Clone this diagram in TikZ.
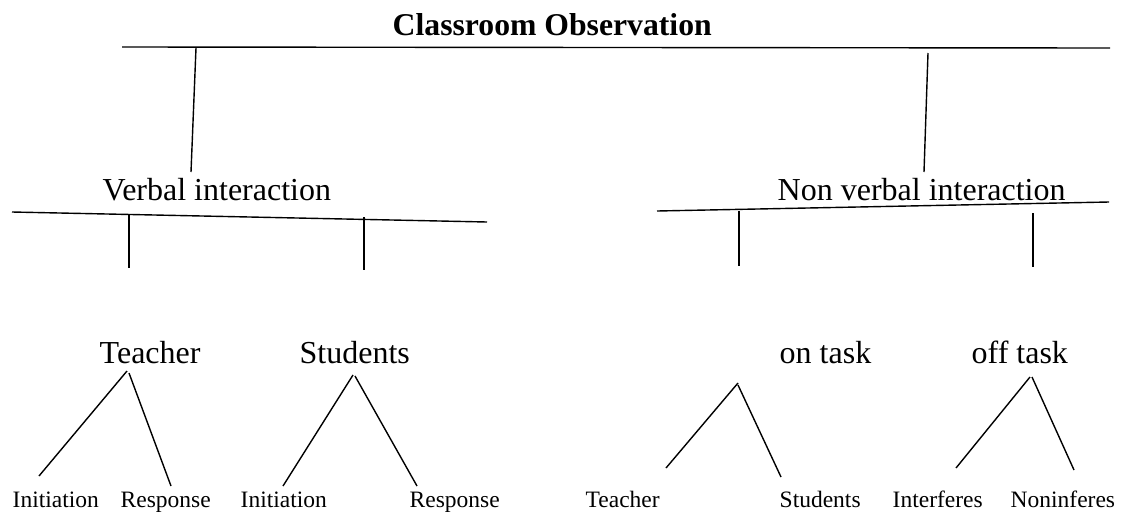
\documentclass[tikz,border=0pt]{standalone}
\usepackage{fontspec}
\setmainfont{Liberation Serif}
\begin{document}
\begin{tikzpicture}[x=1pt,y=-1pt,line width=1.4pt,
  lbl/.style={anchor=base west,inner sep=0pt,font=\fontsize{32}{32}\selectfont},
  leaf/.style={anchor=base west,inner sep=0pt,font=\fontsize{23.5}{23.5}\selectfont},
  ttl/.style={anchor=base west,inner sep=0pt,font=\fontsize{31.7}{31.7}\selectfont\bfseries},
  conn/.style={draw,line width=1.4pt}]
\useasboundingbox (0,0) rectangle (1124,512);
% texts
\node[ttl] (title) at (392,35) {Classroom Observation};
\node[lbl] (verbal) at (102,200) {Verbal interaction};
\node[lbl] (nonverbal) at (777,200) {Non verbal interaction};
\node[lbl] (teacher) at (99,363) {Teacher};
\node[lbl] (students) at (299,363) {Students};
\node[lbl] (ontask) at (779,363) {on task};
\node[lbl] (offtask) at (971,363) {off task};
\node[leaf] (tinit) at (12,507) {Initiation};
\node[leaf] (tresp) at (120,507) {Response};
\node[leaf] (sinit) at (240,507) {Initiation};
\node[leaf] (sresp) at (409,507) {Response};
\node[leaf] (oteacher) at (585,507) {Teacher};
\node[leaf] (ostudents) at (779,507) {Students};
\node[leaf] (interf) at (892,507) {Interferes};
\node[leaf] (nonint) at (1010,507) {Noninferes};
% coordinates
\coordinate (topL) at (122,47);
\coordinate (topR) at (1110,48);
\coordinate (vlA) at (196,48);
\coordinate (vlB) at (191,172);
\coordinate (vrA) at (928,53);
\coordinate (vrB) at (924,172);
\coordinate (vbL) at (12,212);
\coordinate (vbR) at (487,222);
\coordinate (v1A) at (129,215);
\coordinate (v1B) at (129,268);
\coordinate (v2A) at (364,217);
\coordinate (v2B) at (364,270);
\coordinate (nbL) at (657,211);
\coordinate (nbR) at (1109,202);
\coordinate (v3A) at (739,211);
\coordinate (v3B) at (739,266);
\coordinate (v4A) at (1033,213);
\coordinate (v4B) at (1033,267);
\coordinate (tA1) at (127,371);
\coordinate (tE1) at (39,476);
\coordinate (tA2) at (129,373);
\coordinate (tE2) at (171,486);
\coordinate (sA1) at (353,375);
\coordinate (sE1) at (283,486);
\coordinate (sA2) at (355,376);
\coordinate (sE2) at (417,486);
\coordinate (oA1) at (738,383);
\coordinate (oE1) at (666,468);
\coordinate (oA2) at (738,385);
\coordinate (oE2) at (781,477);
\coordinate (fA1) at (1030,377);
\coordinate (fE1) at (956,468);
\coordinate (fA2) at (1032,377);
\coordinate (fE2) at (1074,470);
% lines
\draw[conn] (topL) -- (topR);
\draw[conn] (vlA) -- (vlB);
\draw[conn] (vrA) -- (vrB);
\draw[conn] (vbL) -- (vbR);
\draw[conn] (v1A) -- (v1B);
\draw[conn] (v2A) -- (v2B);
\draw[conn] (nbL) -- (nbR);
\draw[conn] (v3A) -- (v3B);
\draw[conn] (v4A) -- (v4B);
\draw[conn] (tA1) -- (tE1);
\draw[conn] (tA2) -- (tE2);
\draw[conn] (sA1) -- (sE1);
\draw[conn] (sA2) -- (sE2);
\draw[conn] (oA1) -- (oE1);
\draw[conn] (oA2) -- (oE2);
\draw[conn] (fA1) -- (fE1);
\draw[conn] (fA2) -- (fE2);
\end{tikzpicture}
\end{document}
